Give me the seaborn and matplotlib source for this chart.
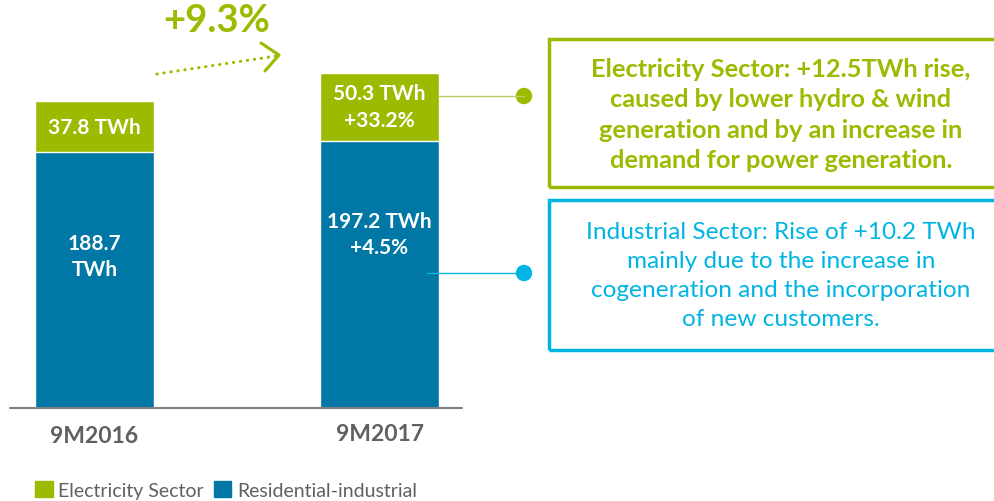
import matplotlib
matplotlib.use("Agg")
import matplotlib.pyplot as plt
import seaborn as sns
import pandas as pd
from matplotlib.patches import Rectangle, Circle, Patch

### DATA ###

periods = ["9M2016", "9M2017"]
electricity = [37.8, 50.3]
residential = [188.7, 197.2]
elec_labels = ["37.8 TWh", "50.3 TWh\n+33.2%"]
resid_labels = ["188.7\nTWh", "197.2 TWh\n+4.5%"]
growth_label = "+9.3%"
legend_names = ["Electricity Sector", "Residential-industrial"]
elec_note = ("Electricity Sector: +12.5TWh rise,\ncaused by lower hydro & wind\n"
             "generation and by an increase in\ndemand for power generation.")
ind_note = ("Industrial Sector: Rise of +10.2 TWh\nmainly due to the increase in\n"
            "cogeneration and the incorporation\nof new customers.")

### STYLE ###

GREEN = "#9cba00"
BLUE = "#0077a4"
CYAN = "#00b4e3"
GREY = "#5f6062"
W, H = 994, 502

sns.set_theme(style="white")
plt.rcParams["font.family"] = ["Lato", "DejaVu Sans"]

def fx(x):
    return x / W

def fy(y):
    return 1 - y / H

df = pd.DataFrame({"period": periods,
                   "total": [e + r for e, r in zip(electricity, residential)],
                   "resid": residential})

fig = plt.figure(figsize=(W / 100, H / 100), dpi=100)
ax = fig.add_axes([0, 0, 1, 1])

# stacked bars: total in green, residential on top of it in blue
sns.barplot(data=df, x="period", y="total", color=GREEN, width=0.4175,
            saturation=1, ax=ax)
sns.barplot(data=df, x="period", y="resid", color=BLUE, width=0.4175,
            saturation=1, ax=ax)

# map data to the pixel layout of the reference
px_per_twh = 1.355
base = 409
ax.set_xlim(-94.5 / 285, (W - 94.5) / 285)
ax.set_ylim(-(H - base) / px_per_twh, base / px_per_twh)
ax.axis("off")
ax.axhline(0, xmin=fx(10), xmax=fx(462), color="#808080", lw=1.5)

# bar labels
resid_offset = [18, 30]
for i in range(len(periods)):
    ax.text(i, residential[i] + electricity[i] / 2, elec_labels[i], color="white",
            ha="center", va="center", fontsize=15, fontweight="bold", linespacing=1.45)
    ax.text(i, residential[i] / 2 + resid_offset[i], resid_labels[i], color="white",
            ha="center", va="center", fontsize=15, fontweight="bold", linespacing=1.4)
    ax.text(i, -20.5 + 2 * i, periods[i], color=GREY, ha="center", va="center",
            fontsize=16.5, fontweight="bold")

# growth arrow
fig.text(fx(217), fy(21), growth_label, color=GREEN, fontsize=27.5, fontweight="bold",
         ha="center", va="center")
fig.add_artist(plt.Line2D([fx(157), fx(276)], [fy(75), fy(57)], color=GREEN, lw=2.2,
                          linestyle=(0, (0.1, 2.2)), dash_capstyle="round"))
fig.add_artist(plt.Line2D([fx(261), fx(279), fx(265)], [fy(44), fy(56), fy(72)],
                          color=GREEN, lw=2.2))

# connectors
fig.add_artist(plt.Line2D([fx(439), fx(524)], [fy(97), fy(97)], color="#b8cf60", lw=1))
fig.add_artist(plt.Line2D([fx(427), fx(524)], [fy(274), fy(274)], color=CYAN, lw=1))
for y, c in [(97, GREEN), (274, CYAN)]:
    fig.add_artist(Circle((524, H - y), 7.5, color=c, transform=None))

# note boxes
fig.add_artist(Rectangle((fx(549), fy(188)), fx(460), (188 - 40) / H, fill=False,
                         edgecolor=GREEN, lw=2.5, transform=fig.transFigure))
fig.add_artist(Rectangle((fx(549), fy(351)), fx(460), (351 - 201) / H, fill=False,
                         edgecolor=CYAN, lw=2.5, transform=fig.transFigure))
fig.text(fx(781), fy(115), elec_note, color=GREEN, fontsize=18.3, fontweight="bold",
         ha="center", va="center", linespacing=1.38)
fig.text(fx(781), fy(276), ind_note, color=CYAN, fontsize=17.6,
         ha="center", va="center", linespacing=1.46)

# legend
handles = [Patch(color=GREEN, label=legend_names[0]), Patch(color=BLUE, label=legend_names[1])]
fig.legend(handles=handles, loc="lower left", bbox_to_anchor=(fx(35), fy(500)), ncol=2,
           frameon=False, fontsize=14, labelcolor=GREY, handlelength=0.9, handleheight=0.9,
           handletextpad=0.3, columnspacing=0.5, borderaxespad=0, borderpad=0)

fig.savefig("out.png", dpi=100)
